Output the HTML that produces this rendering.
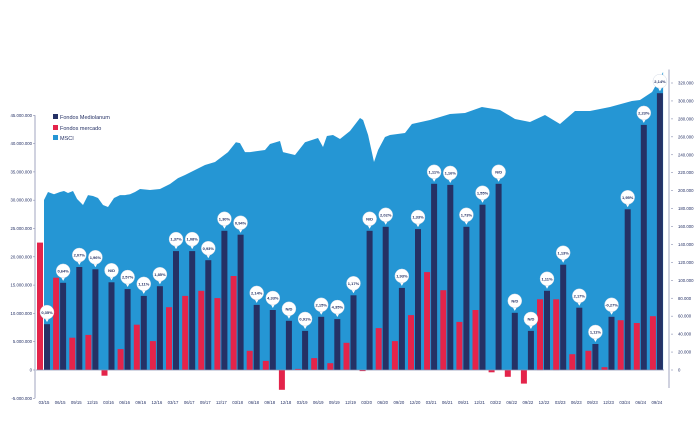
<!DOCTYPE html>
<html><head><meta charset="utf-8"><style>
html,body{margin:0;padding:0;background:#fff;}
svg{display:block;font-family:"Liberation Sans",sans-serif;}
</style></head><body>
<svg id="chart" width="700" height="437" viewBox="0 0 700 437" xmlns="http://www.w3.org/2000/svg">
<g id="area-layer"></g>
<g id="bars-layer"></g>
<g id="axes-layer"></g>
<g id="bubbles-layer"></g>
<g>
  <rect x="53" y="114" width="5" height="5" fill="#253165"/>
  <text x="60" y="119" font-size="5.5" fill="#253165">Fondos Mediolanum</text>
  <rect x="53" y="125" width="5" height="5" fill="#e4244a"/>
  <text x="60" y="130" font-size="5.5" fill="#253165">Fondos mercado</text>
  <rect x="53" y="135" width="5" height="5" fill="#2596d4"/>
  <text x="60" y="140" font-size="5.5" fill="#253165">MSCI</text>
</g>
</svg>
<script>
const categories = ["03/15","06/15","09/15","12/15","03/16","06/16","09/16","12/16","03/17","06/17","09/17","12/17","03/18","06/18","09/18","12/18","03/19","06/19","09/19","12/19","03/20","06/20","09/20","12/20","03/21","06/21","09/21","12/21","03/22","06/22","09/22","12/22","03/23","06/23","09/23","12/23","03/24","06/24","09/24"];
const mediolanum = [8.1,15.4,18.2,17.8,15.5,14.3,13.1,14.8,21.0,21.0,19.4,24.6,23.9,11.5,10.6,8.7,6.9,9.4,9.0,13.2,24.6,25.3,14.5,24.9,32.9,32.7,25.3,29.2,32.9,10.1,6.9,14.0,18.6,11.0,4.6,9.4,28.4,43.3,48.9];
const mercado = [22.5,16.3,5.7,6.2,-1.0,3.7,8.0,5.1,11.1,13.1,14.0,12.7,16.6,3.4,1.6,-3.5,0.2,2.1,1.2,4.8,-0.2,7.4,5.1,9.7,17.3,14.1,8.5,10.6,-0.4,-1.2,-2.4,12.5,12.5,2.8,3.4,0.5,8.8,8.3,9.5];
const bubbleLabels = ["0,35%","0,64%","2,07%","1,96%","N/D","2,57%","1,11%","1,85%","1,37%","1,08%","0,93%","1,30%","0,94%","2,14%","4,33%","N/D","0,91%","2,15%","4,35%","1,17%","N/D","2,02%","1,93%","1,33%","1,11%","1,16%","1,73%","1,55%","N/D","N/D","N/D","1,11%","1,13%","2,17%","1,11%","-0,27%","1,95%","2,23%","2,14%"];
const msciT = [0,0.25,0.62,0.99,1.24,1.49,1.8,2.05,2.42,2.73,3.04,3.35,3.66,3.97,4.34,4.71,5.02,5.33,5.64,5.95,6.57,7.19,7.81,8.31,8.74,9.36,9.98,10.6,11.41,11.9,12.15,12.46,12.77,13.7,14.01,14.63,14.82,15.56,16.18,16.99,17.3,17.54,17.92,18.35,18.97,19.59,19.78,20.09,20.46,20.71,21.14,21.45,22.38,22.81,23.93,25.17,26.1,27.15,28.27,29.2,30.13,31.06,31.99,32.92,33.85,35.09,36.45,36.95,37.7,38.19,38.38];
const msciV = [189.5,198.5,196,198.5,199.6,197.4,199.6,190.7,184,195,194,191.8,184,181.7,191.8,195,195,196,198.5,201.8,200.7,201.8,207.4,214,217.4,223,228.6,231.9,243,254,253,243,243,245.3,252,255.3,243,239.7,254,258.7,248.6,260.9,262,257.6,266.5,281,278.7,262,231.9,245.3,259.8,262,264.2,274.3,278.7,285.4,286.5,293.2,289.9,279.9,276.5,284.3,274.3,288.8,288.8,293.2,299.9,301,310,325.6,332.3];
const leftTicks = [-5,0,5,10,15,20,25,30,35,40,45];
const leftTickLabels = ["-5.000.000","0","5.000.000","10.000.000","15.000.000","20.000.000","25.000.000","30.000.000","35.000.000","40.000.000","45.000.000"];
const rightTicks = [0,20,40,60,80,100,120,140,160,180,200,220,240,260,280,300,320];
const rightTickLabels = ["0","20.000","40.000","60.000","80.000","100.000","120.000","140.000","160.000","180.000","200.000","220.000","240.000","260.000","280.000","300.000","320.000"];

const NS="http://www.w3.org/2000/svg";
const x0=44, step=16.13;
const xPos = i => x0 + i*step;
const yL = v => 370 - v*5.66;
const yR = v => 370 - v*287/320;
function mk(tag, attrs, parent){const e=document.createElementNS(NS,tag);for(const k in attrs)e.setAttribute(k,attrs[k]);parent.appendChild(e);return e;}

// area
const areaG=document.getElementById('area-layer');
let d="M"+xPos(msciT[0])+","+yR(0);
msciT.forEach((t,i)=>{d+=" L"+xPos(t).toFixed(1)+","+yR(msciV[i]).toFixed(1);});
d+=" L"+xPos(msciT[msciT.length-1]).toFixed(1)+","+yR(0)+" Z";
const area=mk('path',{d:d,fill:'#2596d4'},areaG);



// bars
const barsG=document.getElementById('bars-layer');
const bubG=document.getElementById('bubbles-layer');
categories.forEach((c,i)=>{
  const cx=xPos(i);
  const rv=mercado[i];
  const r=mk('rect',{x:(cx-7).toFixed(1),y:Math.min(yL(rv),yL(0)).toFixed(1),width:6,height:Math.abs(yL(rv)-yL(0)).toFixed(1),fill:'#e4244a'},barsG);
  
  
  const nv=mediolanum[i];
  const n=mk('rect',{x:cx.toFixed(1),y:yL(nv).toFixed(1),width:6,height:(yL(0)-yL(nv)).toFixed(1),fill:'#253165'},barsG);
  
  
  // bubble
  const bx=cx+3, by=yL(nv)-12;
  const g=mk('g',{},bubG);
  
  
  mk('path',{d:`M${bx-2.5},${by+5.5} L${bx},${by+10} L${bx+2.5},${by+5.5} Z`,fill:'#fff'},g);
  mk('circle',{cx:bx,cy:by,r:7,fill:'#fff',stroke:'#c8d0e0','stroke-width':0.4},g);
  const t=mk('text',{x:bx,y:by+1.6,'text-anchor':'middle','font-size':4,'font-weight':'bold',fill:'#253165'},g);
  t.textContent=bubbleLabels[i];
  // x label
  const xl=mk('text',{x:cx.toFixed(1),y:404,'text-anchor':'middle','font-size':4.3,fill:'#253165'},barsG);
  
  
  xl.textContent=c;
});

// axes
const axG=document.getElementById('axes-layer');
const zl=mk('line',{x1:36,x2:664,y1:370,y2:370,stroke:'#8a90b0','stroke-width':0.8},axG);


const la=mk('line',{x1:35,x2:35,y1:yL(45),y2:yL(-5),stroke:'#8a90b0','stroke-width':0.8},axG);


leftTicks.forEach((v,i)=>{
  mk('line',{x1:33,x2:35,y1:yL(v),y2:yL(v),stroke:'#8a90b0','stroke-width':0.6},axG);
  const t=mk('text',{x:32,y:yL(v)+1.5,'text-anchor':'end','font-size':4.3,fill:'#253165'},axG);
  
  
  t.textContent=leftTickLabels[i];
});
const ra=mk('line',{x1:669,x2:669,y1:yR(335),y2:yR(-20),stroke:'#8a90b0','stroke-width':0.8},axG);


rightTicks.forEach((v,i)=>{
  mk('line',{x1:671,x2:673,y1:yR(v),y2:yR(v),stroke:'#8a90b0','stroke-width':0.6},axG);
  const t=mk('text',{x:678,y:yR(v)+1.5,'font-size':4.3,fill:'#253165'},axG);
  
  
  t.textContent=rightTickLabels[i];
});
</script>
</body></html>
